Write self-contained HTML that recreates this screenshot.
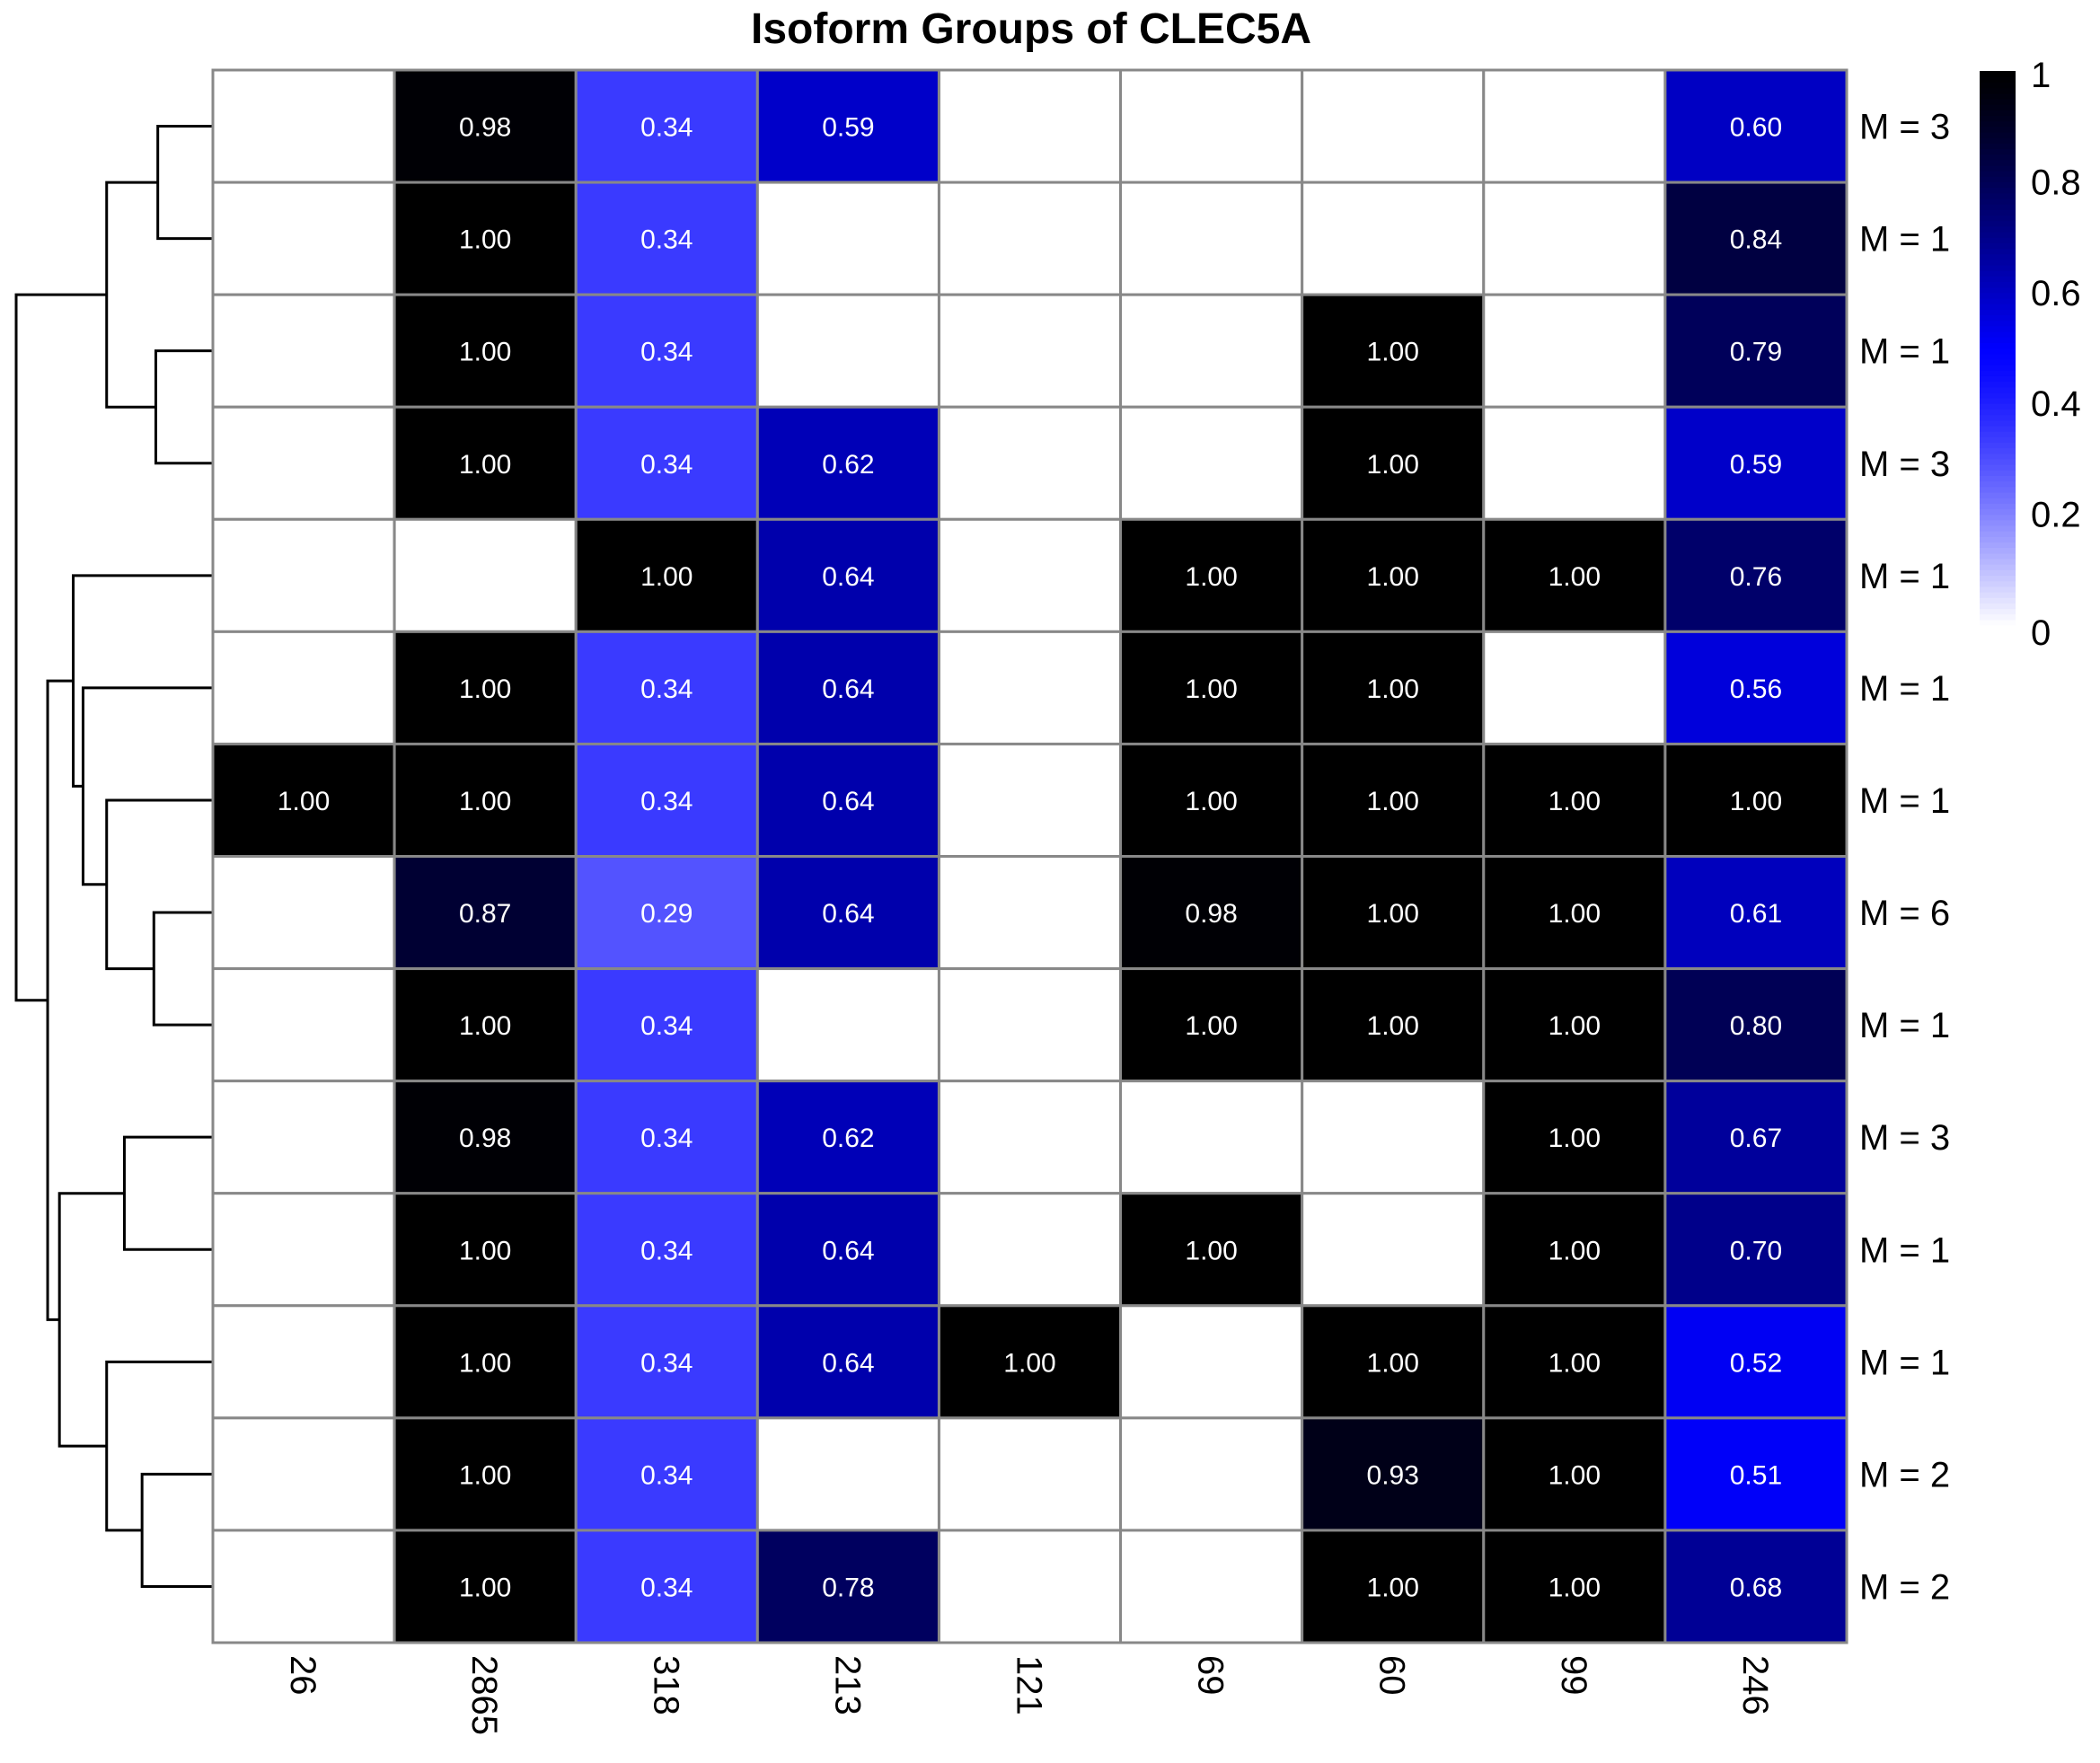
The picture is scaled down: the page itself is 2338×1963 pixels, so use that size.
<!DOCTYPE html>
<html><head><meta charset="utf-8"><style>
html,body{margin:0;padding:0;background:#fff;}
svg{display:block;font-family:"Liberation Sans",Arial,sans-serif;}
</style></head><body>
<svg id="chart" width="2338" height="1963" viewBox="0 0 2338 1963" xmlns="http://www.w3.org/2000/svg">
<text x="1148" y="48" text-anchor="middle" font-size="48" font-weight="bold">Isoform Groups of CLEC5A</text>
<g id="dendro"></g>
<g id="cells"></g>
<g id="rowlabels"></g>
<g id="collabels"></g>
<g id="legend"></g>
</svg>
<script>
const columns = ["26","2865","318","213","121","69","60","99","246"];
const rowLabels = ["M = 3","M = 1","M = 1","M = 3","M = 1","M = 1","M = 1","M = 6","M = 1","M = 3","M = 1","M = 1","M = 2","M = 2"];
const values = [
 [null,0.98,0.34,0.59,null,null,null,null,0.60],
 [null,1.00,0.34,null,null,null,null,null,0.84],
 [null,1.00,0.34,null,null,null,1.00,null,0.79],
 [null,1.00,0.34,0.62,null,null,1.00,null,0.59],
 [null,null,1.00,0.64,null,1.00,1.00,1.00,0.76],
 [null,1.00,0.34,0.64,null,1.00,1.00,null,0.56],
 [1.00,1.00,0.34,0.64,null,1.00,1.00,1.00,1.00],
 [null,0.87,0.29,0.64,null,0.98,1.00,1.00,0.61],
 [null,1.00,0.34,null,null,1.00,1.00,1.00,0.80],
 [null,0.98,0.34,0.62,null,null,null,1.00,0.67],
 [null,1.00,0.34,0.64,null,1.00,null,1.00,0.70],
 [null,1.00,0.34,0.64,1.00,null,1.00,1.00,0.52],
 [null,1.00,0.34,null,null,null,0.93,1.00,0.51],
 [null,1.00,0.34,0.78,null,null,1.00,1.00,0.68]
];
// dendrogram merges: [left, right, height]; leaves are row indices, nodes are "n"+index
const merges = [
 [0,1,0.28],[2,3,0.29],["n0","n1",0.54],
 [7,8,0.30],[6,"n3",0.54],[5,"n4",0.66],[4,"n5",0.71],
 [9,10,0.45],[12,13,0.36],[11,"n8",0.54],["n7","n9",0.78],
 ["n6","n10",0.84],["n2","n11",1.0]
];
const legendTicks = [0,0.2,0.4,0.6,0.8,1];
const legendTickLabels = ["0","0.2","0.4","0.6","0.8","1"];

const NS="http://www.w3.org/2000/svg";
const X0=237,X1=2056,Y0=78,Y1=1829;
const cw=(X1-X0)/columns.length, rh=(Y1-Y0)/values.length;
const xCol=i=>X0+i*cw, yRow=i=>Y0+i*rh;
const xH=h=>X0-h*219;
function mk(tag,attrs,parent){const e=document.createElementNS(NS,tag);for(const k in attrs)e.setAttribute(k,attrs[k]);parent.appendChild(e);return e;}
function color(v){
  if(v<=0.5){const t=v/0.5;const c=Math.round(255*Math.pow(1-t,1.3));return `rgb(${c},${c},255)`;}
  const t=(v-0.5)/0.5;const b=Math.round(255*Math.pow(1-t,1.2));return `rgb(0,0,${b})`;
}
const cells=document.getElementById('cells');
values.forEach((row,r)=>row.forEach((v,c)=>{
  const rect=mk('rect',{x:xCol(c),y:yRow(r),width:cw,height:rh,fill:v==null?'#fff':color(v),stroke:'#888','stroke-width':3},cells);
  
  
  if(v!=null){
    const t=mk('text',{x:xCol(c)+cw/2,y:yRow(r)+rh/2+11,'text-anchor':'middle','font-size':30,fill:'#fff'},cells);
    t.textContent=v.toFixed(2);
    
    
  }
}));
mk('rect',{x:X0,y:Y0,width:X1-X0,height:Y1-Y0,fill:'none',stroke:'#888','stroke-width':3},cells);
const rl=document.getElementById('rowlabels');
rowLabels.forEach((s,r)=>{
  const t=mk('text',{x:2070,y:yRow(r)+rh/2+14,'font-size':40},rl);t.textContent=s;
  
  
});
const cl=document.getElementById('collabels');
columns.forEach((s,c)=>{
  const cx=xCol(c)+cw/2;
  const t=mk('text',{x:0,y:0,'font-size':40,transform:`translate(${cx-14},1843) rotate(90)`},cl);t.textContent=s;
  
  
});
// dendrogram
const dg=document.getElementById('dendro');
const nodes=[];
function pos(k){ if(typeof k==='number') return {x:X0,y:yRow(k)+rh/2}; return nodes[+k.slice(1)]; }
merges.forEach(m=>{
  const a=pos(m[0]),b=pos(m[1]),x=xH(m[2]);
  const p=mk('path',{d:`M${a.x},${a.y}H${x}V${b.y}H${b.x}`,fill:'none',stroke:'#000','stroke-width':3},dg);
  
  
  nodes.push({x:x,y:(a.y+b.y)/2});
});
// legend
const lg=document.getElementById('legend');
const LY0=79,LY1=696,LX=2204,LW=40;
const ly=v=>LY1-v*(LY1-LY0);
for(let i=0;i<100;i++){
  const v0=i/100,v1=(i+1)/100;
  const r=mk('rect',{x:LX,y:ly(v1),width:LW,height:ly(v0)-ly(v1)+0.6,fill:color((v0+v1)/2)},lg);
  
  
}
legendTicks.forEach((v,i)=>{
  let y=ly(v)+14; if(v===1) y+=4; if(v===0) y+=8;
  const t=mk('text',{x:2261,y:y,'font-size':40},lg);t.textContent=legendTickLabels[i];
  
  
});
</script>
</body></html>
